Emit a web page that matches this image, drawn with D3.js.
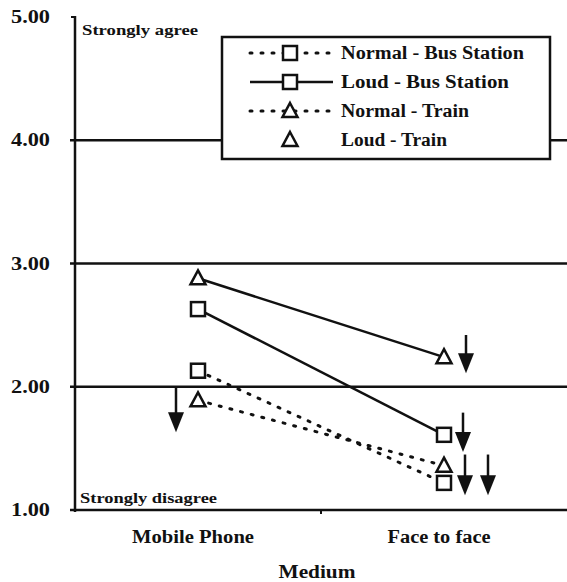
<!DOCTYPE html>
<html>
<head>
<meta charset="utf-8">
<style>
  body { margin: 0; background: #fff; }
  text { font-family: "Liberation Serif", "Times New Roman", serif; font-weight: bold; fill: #111; }
</style>
</head>
<body>
<script src="https://cdn.jsdelivr.net/npm/d3@7"></script>
<script>
// categories on the x axis
const media = ["Mobile Phone", "Face to face"];
const yTicks = [1, 2, 3, 4, 5];

// mean ratings
const normalBus = [2.13, 1.22];
const loudBus = [2.63, 1.61];
const normalTrain = [1.89, 1.36];
const loudTrain = [2.88, 2.24];

const series = [
  { name: "Normal - Bus Station", values: normalBus, marker: "square", dotted: true, legendLine: true },
  { name: "Loud - Bus Station", values: loudBus, marker: "square", dotted: false, legendLine: true },
  { name: "Normal - Train", values: normalTrain, marker: "triangle", dotted: true, legendLine: true },
  { name: "Loud - Train", values: loudTrain, marker: "triangle", dotted: false, legendLine: false }
];

// down arrows: medium, from value, to value, pixel offset beside the marker
const arrowMedium = ["Mobile Phone", "Face to face", "Face to face", "Face to face", "Face to face"];
const arrowFrom = [1.99, 2.42, 1.79, 1.45, 1.45];
const arrowTo = [1.63, 2.11, 1.47, 1.12, 1.12];
const arrowShift = [-22, 22, 19, 21, 44];

const width = 567, height = 582;
const svg = d3.select("body").append("svg")
  .attr("width", width)
  .attr("height", height);

const x = d3.scaleBand().domain(media).range([75, 567]);
const y = d3.scaleLinear().domain([1, 5]).range([510, 17]);
const cx = d => x(d) + x.bandwidth() / 2;

// horizontal grid lines
svg.selectAll(".grid")
  .data(yTicks.slice(0, 4))
  .enter()
  .append("line")
  .attr("x1", 70).attr("x2", width)
  .attr("y1", d => y(d)).attr("y2", d => y(d))
  .attr("stroke", "#111")
  .attr("stroke-width", 2.5);

// y axis
svg.append("line")
  .attr("x1", 75).attr("x2", 75)
  .attr("y1", y(5) - 1).attr("y2", y(1) + 2)
  .attr("stroke", "#111")
  .attr("stroke-width", 2.5);
svg.append("line")
  .attr("x1", 71).attr("x2", 75)
  .attr("y1", y(5)).attr("y2", y(5))
  .attr("stroke", "#111").attr("stroke-width", 2);

// middle tick on x axis
svg.append("line")
  .attr("x1", x("Face to face")).attr("x2", x("Face to face"))
  .attr("y1", y(1)).attr("y2", y(1) + 4)
  .attr("stroke", "#111").attr("stroke-width", 2);

svg.selectAll(".ylab")
  .data(yTicks)
  .enter()
  .append("text")
  .attr("x", 50)
  .attr("y", d => y(d) + 6)
  .attr("text-anchor", "end")
  .style("font-size", "18px")
  .attr("textLength", 39)
  .attr("lengthAdjust", "spacingAndGlyphs")
  .text(d => d3.format(".2f")(d));

svg.append("text")
  .attr("x", 82).attr("y", 35)
  .style("font-size", "14px")
  .attr("textLength", 116)
  .attr("lengthAdjust", "spacingAndGlyphs")
  .text("Strongly agree");
svg.append("text")
  .attr("x", 80).attr("y", 503)
  .style("font-size", "14px")
  .attr("textLength", 137)
  .attr("lengthAdjust", "spacingAndGlyphs")
  .text("Strongly disagree");

const xLabelWidth = [122, 103];
svg.selectAll(".xlab")
  .data(media)
  .enter()
  .append("text")
  .attr("x", d => cx(d) - 5)
  .attr("y", 543)
  .attr("text-anchor", "middle")
  .style("font-size", "18px")
  .attr("textLength", (d, i) => xLabelWidth[i])
  .attr("lengthAdjust", "spacingAndGlyphs")
  .text(d => d);

svg.append("text")
  .attr("x", 317)
  .attr("y", 578)
  .attr("text-anchor", "middle")
  .style("font-size", "18px")
  .attr("textLength", 77)
  .attr("lengthAdjust", "spacingAndGlyphs")
  .text("Medium");

// markers
function drawMarker(g, type, px, py) {
  if (type === "square") {
    g.append("rect")
      .attr("x", px - 7).attr("y", py - 7)
      .attr("width", 14).attr("height", 14)
      .attr("fill", "#fff")
      .attr("stroke", "#111")
      .attr("stroke-width", 2.5);
  } else {
    g.append("path")
      .attr("d", `M${px},${py - 8}L${px + 7.5},${py + 6}L${px - 7.5},${py + 6}Z`)
      .attr("fill", "#fff")
      .attr("stroke", "#111")
      .attr("stroke-width", 2.5)
      .attr("stroke-linejoin", "miter");
  }
}

const line = d3.line()
  .x((d, i) => cx(media[i]))
  .y(d => y(d));

series.forEach(s => {
  svg.append("path")
    .attr("d", line(s.values))
    .attr("fill", "none")
    .attr("stroke", "#111")
    .attr("stroke-width", s.dotted ? 3 : 2.5)
    .attr("stroke-linecap", s.dotted ? "round" : "butt")
    .attr("stroke-dasharray", s.dotted ? "2,9" : null);
});

series.forEach(s => {
  const g = svg.append("g");
  s.values.forEach((v, i) => drawMarker(g, s.marker, cx(media[i]), y(v)));
});

// arrows
arrowFrom.forEach((f, i) => {
  const ax = cx(arrowMedium[i]) + arrowShift[i];
  const y0 = y(f), y1 = y(arrowTo[i]);
  svg.append("line")
    .attr("x1", ax).attr("x2", ax)
    .attr("y1", y0).attr("y2", y1 - 16)
    .attr("stroke", "#111").attr("stroke-width", 2.5);
  svg.append("path")
    .attr("d", `M${ax - 8},${y1 - 20}L${ax + 8},${y1 - 20}L${ax},${y1}Z`)
    .attr("fill", "#111");
});

// legend
const lg = svg.append("g");
lg.append("rect")
  .attr("x", 222).attr("y", 37)
  .attr("width", 328).attr("height", 122)
  .attr("fill", "#fff")
  .attr("stroke", "#111")
  .attr("stroke-width", 2.5);

const legendTextWidth = [183, 168, 128, 106];
series.forEach((s, i) => {
  const ly = 53 + i * 29;
  if (s.legendLine) {
    lg.append("line")
      .attr("x1", 250).attr("x2", 333)
      .attr("y1", ly).attr("y2", ly)
      .attr("stroke", "#111")
      .attr("stroke-width", s.dotted ? 3 : 2.5)
      .attr("stroke-linecap", s.dotted ? "round" : "butt")
      .attr("stroke-dasharray", s.dotted ? "2,9" : null);
  }
  drawMarker(lg, s.marker, 290, ly);
  lg.append("text")
    .attr("x", 341)
    .attr("y", ly + 6)
    .style("font-size", "18px")
    .attr("textLength", legendTextWidth[i])
    .attr("lengthAdjust", "spacingAndGlyphs")
    .text(s.name);
});
</script>
</body>
</html>
